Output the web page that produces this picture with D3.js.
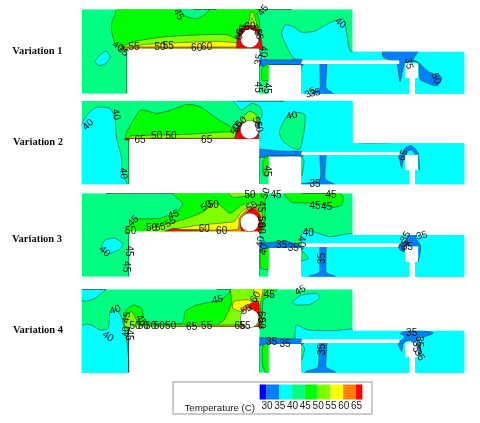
<!DOCTYPE html>
<html>
<head>
<meta charset="utf-8">
<script src="https://cdn.jsdelivr.net/npm/d3@7/dist/d3.min.js"></script>
<style>
	html, body { margin: 0; padding: 0; background: #fff; }
	svg { display: block; }
	.tag { font-family: "Liberation Sans", Arial, sans-serif; font-size: 10px; fill: #111; text-anchor: middle; }
	.name { font-family: "Liberation Serif", serif; font-size: 10.5px; font-weight: bold; fill: #111; }
</style>
</head>
<body>
<script>
// temperature levels of the colour key
var levels = [30, 35, 40, 45, 50, 55, 60, 65];
var keyEdges = [27.3, 30, 35, 40, 45, 50, 55, 60, 65, 67.5];
var keyColors = ["#0000ff", "#0080ff", "#00ffff", "#00ff80", "#00ff00", "#80ff00", "#ffff00", "#ff8000", "#ff0000"];
var panelNames = ["Variation 1", "Variation 2", "Variation 3", "Variation 4"];

// temperature bands: [band, outline], painted in this order
var bands1 = [
	[45, [[365,26],[345,45],[335,70],[335,95],[345,130],[372,155],[385,150],[580,150],[778,150],[780,100],[778,60],[770,40],[775,25],[600,25]]],
	[40, [[540,20],[555,48],[590,56],[620,40],[625,20]]],
	[50, [[372,148],[400,125],[500,110],[620,104],[680,104],[716,122],[720,148],[550,148]]],
	[55, [[385,148],[430,134],[560,127],[650,124],[716,130],[720,148],[550,148]]],
	[60, [[382,148],[382,141],[580,141],[778,141],[778,148],[580,148]]],
	[50, [[743,90],[752,38],[762,40],[772,90]]],
	[55, [[748,90],[756,55],[766,90]]],
	[65, [[712,148],[716,95],[735,78],[765,78],[780,100],[782,148]]],
	[35, [[845,100],[855,75],[880,80],[905,97],[945,93],[990,68],[1030,58],[1040,100],[1048,148],[1062,154],[1230,152],[1400,152],[1400,220],[1400,290],[1150,290],[895,290],[900,230],[905,180],[880,175],[855,130]]],
	[35, [[285,185],[300,165],[318,153],[331,170],[318,190],[298,197]]],
	[35, [[776,150],[790,170],[800,182],[776,184]]],
	[30, [[772,180],[840,180],[906,180],[906,197],[840,197],[772,197]]],
	[30, [[1150,150],[1200,150],[1255,150],[1240,178],[1258,190],[1285,215],[1325,232],[1310,258],[1260,238],[1255,188],[1215,188],[1200,245],[1190,190],[1150,172]]],
	[30, [[960,190],[980,190],[978,262],[1002,284],[932,284],[960,265]]],
	[45, [[786,240],[786,205],[808,192],[810,240]]]
];
var bands2 = [
	[35, [[240,100],[265,55],[290,37],[330,40],[345,70],[350,130],[365,190],[365,225],[380,272],[310,274],[240,272],[238,180]]],
	[45, [[380,112],[395,85],[422,45],[470,55],[515,45],[560,28],[600,35],[650,70],[700,100],[725,112],[722,135],[550,135],[385,135]]],
	[50, [[386,130],[400,122],[560,118],[690,110],[714,114],[714,134],[550,134],[386,134]]],
	[65, [[386,135],[386,130],[580,130],[778,130],[778,135],[580,135]]],
	[65, [[705,134],[720,88],[745,68],[775,85],[780,134]]],
	[50, [[725,80],[745,50],[765,55],[775,80]]],
	[35, [[705,8],[890,8],[1070,8],[1070,140],[1230,140],[1400,140],[1400,275],[1150,275],[895,275],[900,185],[835,185],[770,185],[775,160],[778,90],[787,55],[780,35],[755,25],[725,45],[710,30]]],
	[40, [[838,110],[860,65],[890,52],[915,60],[912,110],[900,162],[880,160],[850,140]]],
	[30, [[772,163],[840,168],[906,170],[906,186],[840,186],[772,186]]],
	[45, [[790,240],[790,195],[808,182],[810,240]]],
	[40, [[898,185],[912,195],[906,240],[898,240]]],
	[30, [[960,178],[978,178],[975,250],[1005,268],[1008,274],[902,274],[905,266],[960,255]]],
	[30, [[1205,178],[1215,160],[1235,152],[1255,175],[1258,225],[1250,185],[1235,165],[1220,170],[1210,190],[1205,220],[1198,185]]]
];
var bands3 = [
	[35, [[305,170],[315,150],[345,145],[368,160],[360,178],[330,190],[310,185]]],
	[45, [[383,115],[410,88],[480,85],[530,65],[548,40],[518,5],[660,5],[798,5],[795,30],[782,128],[590,128],[385,128]]],
	[50, [[440,118],[510,100],[570,82],[610,65],[640,40],[660,45],[690,70],[725,45],[745,40],[760,35],[785,65],[780,128],[600,128],[430,128]]],
	[50, [[685,5],[700,22],[735,18],[780,5]]],
	[55, [[495,122],[600,105],[700,95],[720,70],[740,55],[770,52],[780,128],[640,128],[495,128]]],
	[60, [[480,128],[560,118],[640,120],[712,118],[718,85],[740,60],[765,52],[782,80],[780,128],[630,128]]],
	[65, [[495,128],[520,115],[545,120],[600,122],[600,128]]],
	[65, [[728,128],[722,100],[735,72],[760,55],[780,78],[780,128]]],
	[45, [[860,5],[858,22],[880,38],[950,40],[1000,52],[1025,45],[1030,20],[1005,5]]],
	[35, [[775,130],[785,145],[795,155],[772,160]]],
	[35, [[905,132],[915,120],[940,125],[990,140],[1058,130],[1230,132],[1400,132],[1400,266],[1150,266],[895,266],[900,220],[903,176],[905,160]]],
	[30, [[772,158],[805,158],[860,154],[906,170],[906,178],[840,178],[772,178]]],
	[45, [[782,235],[782,185],[808,174],[810,235]]],
	[40, [[898,175],[925,205],[905,212],[898,210]]],
	[30, [[960,170],[978,170],[978,245],[1003,257],[1005,264],[928,264],[930,257],[958,245]]],
	[30, [[1198,165],[1220,150],[1225,132],[1250,132],[1248,145],[1262,170],[1255,215],[1250,185],[1235,168],[1215,185],[1200,180]]]
];
var bands4 = [
	[35, [[240,8],[320,8],[285,40],[260,48],[240,45]]],
	[35, [[240,125],[270,118],[300,135],[325,130],[330,80],[345,75],[362,90],[372,125],[382,180],[385,270],[310,270],[240,270],[238,200]]],
	[45, [[372,100],[378,75],[400,60],[425,70],[432,100],[450,115],[545,115],[555,80],[590,60],[660,45],[690,20],[688,5],[760,5],[835,5],[815,30],[790,45],[785,100],[780,130],[590,130],[388,130]]],
	[50, [[672,105],[695,55],[695,5],[790,5],[790,30],[780,60],[780,130],[660,130],[655,118]]],
	[50, [[380,92],[395,80],[410,105],[420,120],[570,120],[720,120],[722,130],[550,130],[380,130]]],
	[55, [[698,70],[700,50],[725,45],[750,45],[760,60],[775,80],[725,80]]],
	[55, [[760,5],[788,5],[785,35],[770,40]]],
	[60, [[725,85],[735,62],[762,62],[775,85],[770,130],[728,130]]],
	[65, [[745,62],[775,48],[782,130],[765,85]]],
	[65, [[385,128],[580,124],[778,124],[778,128],[580,128]]],
	[35, [[878,50],[905,30],[950,25],[958,40],[930,58],[890,60]]],
	[35, [[885,150],[890,120],[925,135],[1000,137],[1060,132],[1230,132],[1400,132],[1400,270],[1150,270],[895,270],[900,220],[903,175],[885,160]]],
	[30, [[772,158],[815,160],[905,163],[906,180],[840,180],[772,180]]],
	[45, [[788,240],[788,185],[808,176],[810,262],[796,262]]],
	[40, [[898,176],[914,190],[905,225],[898,225]]],
	[30, [[958,173],[980,173],[978,245],[1002,258],[1004,266],[918,266],[920,258],[955,245]]],
	[30, [[1200,145],[1240,135],[1300,143],[1275,155],[1255,160],[1262,190],[1260,215],[1250,190],[1230,165],[1210,175],[1205,200],[1195,175],[1215,155]]]
];

// contour labels: [value, x, y, turn]
var tags1 = [
	[45,537,43,60],[45,788,30,-50],[40,1022,68,40],[40,790,155,90],[35,775,178,-80],[35,1228,190,80],
	[50,1310,235,70],[45,775,262,90],[45,803,265,90],[55,402,140,0],[50,480,140,0],[55,505,135,0],
	[60,590,141,0],[60,620,138,0],[40,355,137,30],[35,370,152,40],[35,945,277,-10],[35,930,277,-30],
	[60,722,90,-60],[65,732,84,-30],[60,718,103,-80],[55,770,90,60],[65,778,102,80],[60,750,80,0]
];
var tags2 = [
	[40,263,88,-45],[40,350,58,80],[40,372,235,85],[65,420,132,0],[50,470,122,0],[50,513,122,0],
	[65,620,132,0],[40,875,60,-10],[35,945,265,0],[45,803,228,90],[65,1208,180,-70],
	[60,712,95,-70],[50,705,102,-70],[60,778,95,80],[55,772,82,70],[50,722,80,-40]
];
var tags3 = [
	[50,750,12,0],[50,795,10,-70],[45,828,12,0],[45,993,13,0],[45,945,47,0],[45,980,50,0],[50,618,46,-30],
	[50,640,42,0],[55,755,48,-30],[45,520,72,-20],[45,398,92,-45],[50,455,112,0],[55,480,110,-10],[55,510,95,-30],
	[60,613,115,0],[60,665,120,0],[40,925,128,0],[35,845,162,0],[35,880,172,0],[40,905,155,90],[40,790,178,-80],
	[40,315,183,40],[35,965,205,-90],[45,388,183,90],[45,378,230,90],[35,1215,140,-60],[35,1265,135,-15],
	[35,1210,165,-60],[35,1222,168,0],[45,785,50,90],[50,783,95,90],[60,785,115,90],[50,392,122,0],[40,780,155,-80]
];
var tags4 = [
	[40,345,73,-20],[45,378,97,-80],[40,325,153,35],[40,378,140,-90],[45,388,150,90],[45,425,105,60],[45,652,42,-10],
	[45,900,15,-30],[45,808,28,0],[50,405,122,0],[50,430,122,0],[50,452,122,0],[50,478,122,0],[50,512,120,0],
	[65,575,125,0],[55,620,122,0],[65,720,122,0],[35,815,170,0],[35,855,175,0],[35,963,193,-90],[35,1235,142,0],
	[35,1258,170,90],[35,1260,210,60],[35,1250,185,90],[55,738,72,-30],[60,765,35,-60],[60,783,95,90],[50,783,115,90],[55,735,122,0]
];

// walls that carry a contour line: [[x, y], [x, y]]
var walls1 = [[[381,148],[381,281]],[[382,145],[778,145]],[[806,195],[903,195]],[[778,195],[778,281]],[[580,28],[650,28]],[[770,28],[875,28]]];
var walls2 = [[[387,135],[387,268]],[[710,18],[853,18]],[[778,183],[778,268]],[[806,183],[903,183]]];
var walls3 = [[[387,128],[387,260]],[[318,10],[520,10]],[[905,10],[1000,10]],[[778,175],[778,260]],[[806,175],[903,175]]];
var walls4 = [[[386,128],[386,263]],[[245,13],[318,13]],[[650,13],[690,13]],[[778,178],[778,263]],[[806,178],[903,178]]];

var bandSets = [bands1, bands2, bands3, bands4];
var tagSets = [tags1, tags2, tags3, tags4];
var wallSets = [walls1, walls2, walls3, walls4];

// crop offsets and the duct heights of each panel
var rowOffset = [0, 95, 190, 285];
var rowTop = [28, 17, 10, 13];
var rowBottom = [281, 268, 260, 263];
var rowRect = [145, 132, 124, 125];
var rowStep = [155, 145, 135, 137];
var rowSlit = [181, 170, 160, 163];
var rowLeft = [382, 388, 388, 388];
var nameX = [37, 39, 36, 39];
var nameY = [163, 150, 155, 144];

var width = 480, height = 423;
var svg = d3.select("body").append("svg").attr("width", width).attr("height", height);

var defs = svg.append("defs");
defs.append("filter").attr("id", "soft").attr("x", "-2%").attr("y", "-2%").attr("width", "104%").attr("height", "104%")
	.append("feGaussianBlur").attr("stdDeviation", 0.45);

var x = d3.scaleLinear().domain([0, 1440]).range([0, 480]);
var color = d3.scaleThreshold().domain(levels).range(keyColors);

var root = svg.append("g").attr("filter", "url(#soft)");

function outline(i) {
	var t = rowTop[i], b = rowBottom[i], s = rowStep[i], sl = rowSlit[i], r = rowRect[i], l = rowLeft[i];
	return [[245,t],[1058,t],[1058,s],[1393,s],[1393,b],[1245,b],[1245,s+80],[1255,s+80],[1255,sl+9],[1215,sl+9],[1215,s+80],[1228,s+80],[1228,b],
		[903,b],[903,sl+11],[1198,sl+11],[1198,sl],[905,sl],[903,sl+14],[806,sl+14],[806,b],[778,b],[778,r],[l,r],[l,b],[245,b]];
}

panelNames.forEach(function(name, i) {
	var y = d3.scaleLinear().domain([0, 300]).range([rowOffset[i], rowOffset[i] + 100]);
	var line = d3.line().x(function(d) { return x(d[0]); }).y(function(d) { return y(d[1]); });
	var smooth = d3.line().x(function(d) { return x(d[0]); }).y(function(d) { return y(d[1]); }).curve(d3.curveCardinalClosed.tension(0.45));
	var shape = line(outline(i)) + "Z";

	defs.append("clipPath").attr("id", "duct" + i).append("path").attr("d", shape);

	var g = root.append("g").attr("clip-path", "url(#duct" + i + ")");
	g.append("path").attr("d", shape).attr("fill", color(40));
	g.selectAll("path.band").data(bandSets[i]).enter().append("path").attr("class", "band")
		.attr("d", function(d) { return smooth(d[1]); })
		.attr("fill", function(d) { return color(d[0]); })
		.attr("stroke", "#2a3a2a").attr("stroke-width", 0.55);

	g.selectAll("path.wall").data(wallSets[i]).enter().append("path").attr("class", "wall")
		.attr("d", line).attr("fill", "none").attr("stroke", "#333").attr("stroke-width", 1);

	// pipe
	root.append("circle").attr("cx", x(749)).attr("cy", y(rowTop[i] + 87)).attr("r", x(28))
		.attr("fill", "#fff").attr("stroke", "#333").attr("stroke-width", 0.5);

	root.selectAll("text.t" + i).data(tagSets[i]).enter().append("text").attr("class", "tag t" + i)
		.attr("transform", function(d) { return "translate(" + x(d[1]) + "," + y(d[2]) + ") rotate(" + d[3] + ")"; })
		.attr("dy", "0.35em")
		.text(function(d) { return d[0]; });

	root.append("text").attr("class", "name").attr("x", x(nameX[i])).attr("y", y(nameY[i])).text(name);
});

// colour key
var keyX = d3.scaleLinear().domain([30, 65]).range([266.5, 356]);
var key = root.append("g");
key.append("rect").attr("x", 173).attr("y", 382).attr("width", 199).attr("height", 32)
	.attr("fill", "#fff").attr("stroke", "#aaa").attr("stroke-width", 1.2);
key.selectAll("rect.swatch").data(keyColors).enter().append("rect").attr("class", "swatch")
	.attr("x", function(d, i) { return keyX(keyEdges[i]); })
	.attr("y", 384.5)
	.attr("width", function(d, i) { return keyX(keyEdges[i + 1]) - keyX(keyEdges[i]); })
	.attr("height", 15)
	.attr("fill", function(d) { return d; });
var keyAxis = key.append("g").attr("transform", "translate(0,400)")
	.call(d3.axisBottom(keyX).tickValues(levels).tickSize(0).tickPadding(2));
keyAxis.select(".domain").remove();
keyAxis.selectAll("text").attr("font-family", "Liberation Sans, Arial, sans-serif").attr("font-size", 10).attr("fill", "#222");
key.append("text").attr("x", 184.5).attr("y", 410.5)
	.attr("font-family", "Liberation Sans, Arial, sans-serif").attr("font-size", 9.7).attr("fill", "#222")
	.text("Temperature (C)");
</script>
</body>
</html>
